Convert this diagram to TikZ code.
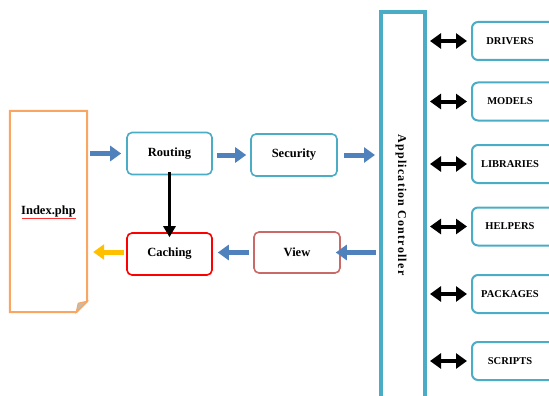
\documentclass[tikz,border=0pt]{standalone}
\usepackage{fontspec}
\setmainfont{Liberation Serif}
\usetikzlibrary{arrows.meta}
\definecolor{aqua}{HTML}{4BACC6}
\definecolor{barrowc}{HTML}{4F81BD}
\definecolor{docor}{HTML}{F79646}
\definecolor{viewred}{HTML}{C0504D}
\definecolor{yarrow}{HTML}{FFC000}
\definecolor{foldc}{HTML}{C8BBAE}
\newcommand{\rlab}[1]{\makebox[76pt]{#1}\hspace*{16pt}}
\tikzset{
  lbox/.style={draw=aqua, line width=1.6pt, rounded corners=5pt, fill=white,
    minimum width=85pt, minimum height=42pt, font=\bfseries\fontsize{12.5}{14}\selectfont, inner sep=0pt},
  rbox/.style={draw=aqua, line width=2pt, rounded corners=6pt, fill=white,
    minimum width=92pt, minimum height=38pt, inner xsep=0pt, font=\bfseries\fontsize{10.5}{12}\selectfont},
  barrow/.style={draw=barrowc, line width=5pt, -{Triangle[length=11pt,width=15pt]}},
  darrow/.style={draw=black, line width=4pt, {Triangle[length=11pt,width=15pt]}-{Triangle[length=11pt,width=15pt]}},
}
\begin{document}
\begin{tikzpicture}[x=1pt,y=-1pt]
\useasboundingbox (0,0) rectangle (549,396);
% document shape
\node[minimum width=77pt, minimum height=201pt, inner sep=0pt,
  font=\bfseries\fontsize{12.5}{14}\selectfont] (index) at (48.5,211.5) {Index.php};
\draw[docor!85, line width=2pt]
  (index.north west) -- (index.north east) -- ([yshift=11pt]index.south east)
  -- ([xshift=-11pt]index.south east) -- (index.south west) -- cycle;
\fill[foldc, draw=docor!85, line width=1pt]
  ([xshift=-11pt]index.south east) -- ([xshift=-9pt,yshift=9pt]index.south east)
  -- ([yshift=11pt]index.south east) -- cycle;
\draw[red!80, line width=0.6pt] ([xshift=-27pt,yshift=-6.5pt]index.center) -- ([xshift=27pt,yshift=-6.5pt]index.center);
% left boxes
\node[lbox] (routing) at (169.5,153.5) {Routing};
\node[lbox, minimum width=86pt] (security) at (294,155) {Security};
\node[lbox, draw=red] (caching) at (169.5,254) {Caching};
\node[lbox, draw=viewred!85, minimum width=86pt, minimum height=41pt] (view) at (297,252.5) {View};
% application controller
\node[draw=aqua, line width=4pt, minimum width=44pt, minimum height=390pt, inner sep=0pt] (appc) at (403,207) {};
\node[rotate=-90, font=\bfseries\fontsize{12}{14}\selectfont\addfontfeatures{LetterSpace=10}] (appct) at (401,205) {Application Controller};
% right boxes
\node[rbox] (drivers) at (518,41) {\rlab{DRIVERS}};
\node[rbox] (models) at (518,101.5) {\rlab{MODELS}};
\node[rbox] (libraries) at (518,164) {\rlab{LIBRARIES}};
\node[rbox] (helpers) at (518,226.5) {\rlab{HELPERS}};
\node[rbox] (packages) at (518,294) {\rlab{PACKAGES}};
\node[rbox] (scripts) at (518,361) {\rlab{SCRIPTS}};
% double arrows
\foreach \n in {drivers,models,libraries,helpers,packages,scripts}{
  \draw[darrow] ([xshift=3pt]appc.east |- \n.west) -- ([xshift=-4pt]\n.west);
}
% flow arrows
\draw[barrow] ([xshift=3pt]index.east |- routing.west) -- ([xshift=-5pt]routing.west);
\draw[barrow] ([xshift=4pt]routing.east |- security.west) -- ([xshift=-4pt]security.west);
\draw[barrow] ([xshift=6pt]security.east) -- ([xshift=-4pt]appc.west |- security.east);
\draw[barrow] ([xshift=-3pt]appc.west |- view.east) -- ([xshift=-5pt]view.east);
\draw[barrow] ([xshift=-4pt]view.west) -- ([xshift=5pt]caching.east |- view.west);
\draw[draw=yarrow, line width=5pt, -{Triangle[length=11pt,width=15pt]}]
  ([xshift=-2pt,yshift=2pt]caching.west) -- ([xshift=6pt,yshift=2pt]index.east |- caching.west);
\draw[line width=3pt, -{Triangle[length=11pt,width=12pt]}] ([yshift=3pt]routing.south) -- ([yshift=-5pt]caching.north);
\end{tikzpicture}
\end{document}
